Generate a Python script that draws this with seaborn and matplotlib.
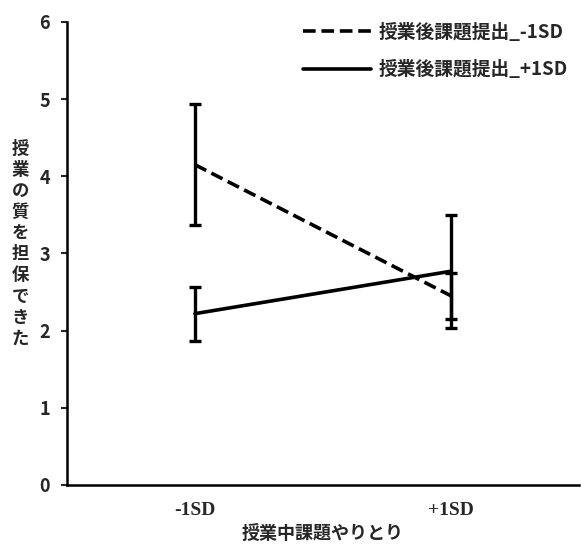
import numpy as np
import pandas as pd
import seaborn as sns
import matplotlib.pyplot as plt
from matplotlib.lines import Line2D

sns.set_style('white')
plt.rcParams['font.family'] = ['Noto Sans CJK JP', 'DejaVu Sans']

# data
conditions = ['-1SD', '+1SD']
groups = ['授業後課題提出_-1SD', '授業後課題提出_+1SD']
means_low = [4.15, 2.45]
err_low = [0.78, 0.30]
means_high = [2.22, 2.77]
err_high = [0.35, 0.73]
y_ticks = [0, 1, 2, 3, 4, 5, 6]

df = pd.DataFrame({
    'pos': [0, 1, 0, 1],
    'cond': conditions * 2,
    'group': [groups[0]] * 2 + [groups[1]] * 2,
    'mean': means_low + means_high,
    'err': err_low + err_high,
})

dash = (3.5, 1.6)

fig = plt.figure(figsize=(5.81, 5.48), dpi=100)
ax = fig.add_axes([0.115, 0.115, 0.882, 0.845])

sns.lineplot(data=df, x='pos', y='mean', style='group', hue='group',
             palette=['black', 'black'], dashes={groups[0]: dash, groups[1]: ''},
             linewidth=2.6, ax=ax, legend=False, errorbar=None)

for g in groups:
    sub = df[df['group'] == g]
    ax.errorbar(sub['pos'], sub['mean'], yerr=sub['err'], fmt='none',
                ecolor='black', elinewidth=2.4, capsize=4, capthick=2.4)

ax.set_xlim(-0.5, 1.5)
ax.set_ylim(0, 6)
ax.set_yticks(y_ticks)
ax.set_yticklabels([str(t) for t in y_ticks], fontsize=13, fontweight='bold')
ax.set_xticks([0, 1])
ax.set_xticklabels(conditions, fontsize=14, fontweight='bold', family='Liberation Serif')
ax.set_xticks([-0.5, 0.5, 1.5], minor=True)
ax.tick_params(axis='x', which='major', length=0, pad=12)
ax.tick_params(axis='x', which='minor', length=5, width=1.5, direction='out')
ax.tick_params(axis='y', length=4, width=1.5, direction='out', left=True, pad=8)
for s in ['top', 'right']:
    ax.spines[s].set_visible(False)
for s in ['left', 'bottom']:
    ax.spines[s].set_linewidth(1.8)
    ax.spines[s].set_color('black')

ax.set_xlabel('授業中課題やりとり', fontsize=13, fontweight='bold', labelpad=4)
ax.set_ylabel('')
fig.text(0.035, 0.555, '\n'.join('授業の質を担保できた'), fontsize=12.5, fontweight='bold',
         ha='center', va='center', linespacing=1.22)

handles = [Line2D([], [], color='black', lw=2.6, ls=(0, dash)),
           Line2D([], [], color='black', lw=2.6)]
ax.legend(handles, groups, loc='upper right', bbox_to_anchor=(1.01, 1.035), frameon=False,
          handlelength=3.6, handletextpad=0.4, labelspacing=1.0,
          prop={'weight': 'bold', 'size': 13.5})

fig.savefig('out.png', dpi=100)
